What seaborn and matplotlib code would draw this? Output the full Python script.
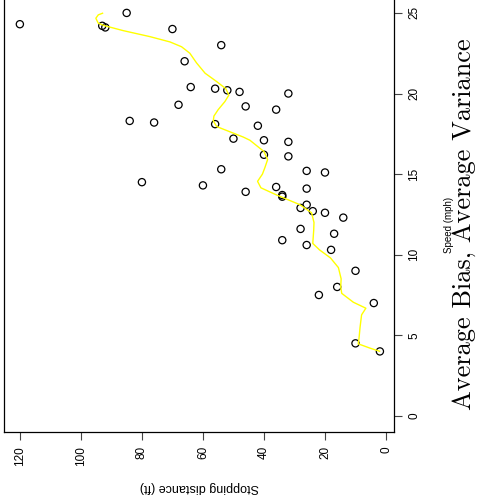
import matplotlib
matplotlib.use("Agg")
import matplotlib.pyplot as plt
import seaborn as sns
import pandas as pd

# observed points (speed slightly jittered as in the reference)
speed = [4.0, 4.5, 7.0, 7.5, 8.0, 9.0, 10.3, 10.6, 10.9, 11.3,
         11.6, 12.3, 12.6, 12.7, 12.9, 13.1, 13.6, 13.7, 13.9, 14.1,
         14.2, 14.3, 14.5, 15.1, 15.2, 15.3, 16.1, 16.2, 17.0, 17.1,
         17.2, 18.0, 18.1, 18.2, 18.3, 19.0, 19.2, 19.3, 20.0, 20.1,
         20.2, 20.3, 20.4, 22.0, 23.0, 24.0, 24.1, 24.2, 24.3, 25.0]
dist = [2, 10, 4, 22, 16, 10, 18, 26, 34, 17,
        28, 14, 20, 24, 28, 26, 34, 34, 46, 26,
        36, 60, 80, 20, 26, 54, 32, 40, 32, 40,
        50, 42, 56, 76, 84, 36, 46, 68, 32, 48,
        52, 56, 64, 66, 54, 70, 92, 93, 120, 85]

# smoothed curve
curve_speed = [4.01, 4.2, 4.47, 4.8, 5.5, 6.27, 6.68, 7.05, 7.6, 8.0,
               8.5, 9.2, 9.8, 10.3, 10.7, 11.5, 12.0, 12.6, 13.1, 13.7,
               14.15, 14.55, 15.0, 15.4, 15.9, 16.4, 17.1, 17.3, 17.95, 18.3,
               18.6, 19.0, 19.5, 19.9, 20.3, 20.74, 21.26, 21.9, 22.5, 22.9,
               23.2, 23.53, 23.9, 24.2, 24.36, 24.67, 24.88, 24.98]
curve_dist = [2.1, 5.2, 9.1, 8.85, 8.5, 8.0, 6.6, 10.7, 14.5, 14.85,
              14.7, 15.6, 18.2, 21.8, 24.0, 23.7, 23.6, 24.4, 28.2, 35.8,
              41.0, 42.1, 40.5, 39.7, 38.8, 40.0, 44.6, 46.8, 55.5, 56.6,
              56.4, 55.0, 52.8, 51.5, 52.5, 55.5, 59.3, 62.1, 64.3, 67.0,
              70.8, 77.4, 86.1, 92.1, 94.3, 95.1, 94.3, 92.9]

x_ticks = [0, 20, 40, 60, 80, 100, 120]
y_ticks = [0, 5, 10, 15, 20, 25]

plt.rcParams['font.family'] = ['Liberation Sans', 'DejaVu Sans']

pts = pd.DataFrame({'dist': dist, 'speed': speed})
crv = pd.DataFrame({'dist': curve_dist, 'speed': curve_speed})

fig = plt.figure(figsize=(4.8, 5.03), dpi=100)
W, H = 480, 503
ax = fig.add_axes([4 / W, (H - 432) / H, 390.3 / W, 435.2 / H])

sns.lineplot(data=crv, x='dist', y='speed', sort=False, estimator=None,
             color='#FFFF00', linewidth=1.0, ax=ax)
sns.scatterplot(data=pts, x='dist', y='speed', marker='o', s=27,
                facecolor='none', edgecolor='black', linewidth=0.9, ax=ax)

ax.set_xlim(125.2, -2.72)
ax.set_ylim(-1, 26)
ax.set_xticks(x_ticks)
ax.set_yticks(y_ticks)
ax.yaxis.tick_right()
ax.tick_params(axis='x', labelrotation=90, length=5.5, width=0.8, pad=4.5,
               labelsize=8.5, color='#444444')
ax.tick_params(axis='y', labelrotation=90, length=5.5, width=0.8, pad=4.5,
               labelsize=8.5, color='#444444')
for lab in ax.get_yticklabels():
    lab.set_va('center')
for sp in ax.spines.values():
    sp.set_linewidth(0.9)
    sp.set_color('black')

ax.set_ylabel('')
ax.set_xlabel('Stopping distance (ft)', rotation=180, fontsize=9, va='center')
ax.xaxis.set_label_coords(0.5, -0.126)

fig.text(449 / W, 1 - 225 / H, 'Speed (mph)', rotation=90, fontsize=7,
         ha='center', va='center')
fig.text(464 / W, 1 - 224 / H, 'Average Bias, Average Variance', rotation=90,
         fontsize=19, family=['cmr10', 'DejaVu Serif'], ha='center', va='center')

fig.savefig('out.png', dpi=100)
